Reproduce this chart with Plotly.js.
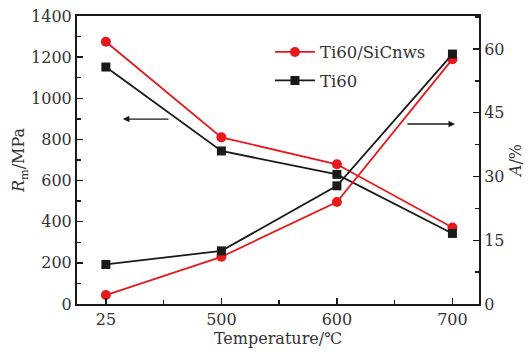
<!DOCTYPE html>
<html>
<head>
<meta charset="utf-8">
<script src="https://cdn.plot.ly/plotly-3.0.1.min.js"></script>
<style>html,body{margin:0;padding:0;background:#fff;}#chart{width:532px;height:358px;}</style>
</head>
<body>
<div id="chart"></div>
<script>
const categories = ['25', '500', '600', '700'];
const strengthComposite = [1275, 810, 679, 372];
const strengthTi60 = [1152, 744, 630, 343];
const elongComposite = [2.1, 11.1, 24.0, 57.6];
const elongTi60 = [9.3, 12.5, 27.8, 58.8];
const nameComposite = 'Ti60/SiCnws';
const nameTi60 = 'Ti60';

const xs = categories.map((c, i) => i);
const red = '#e8191c';
const blk = '#1a1a1a';
const font = 'DejaVu Serif, Liberation Serif, serif';

const traces = [
  {x: xs, y: strengthComposite, yaxis: 'y', name: nameComposite, mode: 'lines+markers',
   line: {color: red, width: 1.8}, marker: {symbol: 'circle', size: 10, color: red}, legendgroup: 'a'},
  {x: xs, y: strengthTi60, yaxis: 'y', name: nameTi60, mode: 'lines+markers',
   line: {color: blk, width: 1.8}, marker: {symbol: 'square', size: 9, color: blk}, legendgroup: 'b'},
  {x: xs, y: elongComposite, yaxis: 'y2', name: nameComposite, mode: 'lines+markers', showlegend: false,
   line: {color: red, width: 1.8}, marker: {symbol: 'circle', size: 10, color: red}, legendgroup: 'a'},
  {x: xs, y: elongTi60, yaxis: 'y2', name: nameTi60, mode: 'lines+markers', showlegend: false,
   line: {color: blk, width: 1.8}, marker: {symbol: 'square', size: 9, color: blk}, legendgroup: 'b'}
];

const tickFont = {family: font, size: 16, color: '#333'};
const layout = {
  width: 532, height: 358,
  margin: {l: 77, r: 53, t: 16, b: 54},
  paper_bgcolor: '#fff', plot_bgcolor: '#fff',
  font: {family: font, size: 16, color: '#333'},
  showlegend: true,
  legend: {x: 0.48, y: 0.935, xanchor: 'left', yanchor: 'top', bgcolor: 'rgba(0,0,0,0)',
           font: {family: font, size: 16.5, color: '#333'}, tracegroupgap: 4, itemwidth: 40},
  xaxis: {
    range: [-0.25, 3.23], tickmode: 'array', tickvals: xs, ticktext: categories, tickfont: tickFont,
    showgrid: false, zeroline: false, showline: true, linecolor: blk, linewidth: 2, mirror: true,
    ticks: 'inside', ticklen: 6, tickwidth: 1.5, tickcolor: blk,
    minor: {tickmode: 'array', tickvals: [0.5, 1.5, 2.5], ticks: 'inside', ticklen: 4, tickwidth: 1.5, tickcolor: blk},
    title: {text: 'Temperature/℃', font: {family: font, size: 16, color: '#333'}, standoff: 4}
  },
  yaxis: {
    range: [0, 1400], dtick: 200, tick0: 0, tickfont: tickFont,
    showgrid: false, zeroline: false, showline: true, linecolor: blk, linewidth: 2,
    ticks: 'inside', ticklen: 6, tickwidth: 1.5, tickcolor: blk,
    minor: {dtick: 100, ticks: 'inside', ticklen: 4, tickwidth: 1.5, tickcolor: blk},
    title: {text: '<i>R</i><sub>m</sub>/MPa', font: {family: font, size: 16, color: '#333'}, standoff: 2}
  },
  yaxis2: {
    overlaying: 'y', side: 'right', range: [0, 67.76], tickmode: 'array', tickvals: [0, 15, 30, 45, 60], tickfont: tickFont,
    showgrid: false, zeroline: false, showline: true, linecolor: blk, linewidth: 2,
    ticks: 'inside', ticklen: 6, tickwidth: 1.5, tickcolor: blk,
    minor: {tickmode: 'array', tickvals: [7.5, 22.5, 37.5, 52.5, 67.5], ticks: 'inside', ticklen: 4, tickwidth: 1.5, tickcolor: blk},
    title: {text: '<i>A</i>/%', font: {family: font, size: 16, color: '#333'}, standoff: 6}
  },
  annotations: [
    {x: 0.147, y: 899, ax: 0.554, ay: 899, xref: 'x', yref: 'y', axref: 'x', ayref: 'y',
     text: '', showarrow: true, arrowhead: 2, arrowsize: 1, arrowwidth: 1.3, arrowcolor: blk},
    {x: 3.022, y: 875, ax: 2.597, ay: 875, xref: 'x', yref: 'y', axref: 'x', ayref: 'y',
     text: '', showarrow: true, arrowhead: 2, arrowsize: 1, arrowwidth: 1.3, arrowcolor: blk}
  ]
};

Plotly.newPlot('chart', traces, layout, {displayModeBar: false, staticPlot: true});
</script>
</body>
</html>
